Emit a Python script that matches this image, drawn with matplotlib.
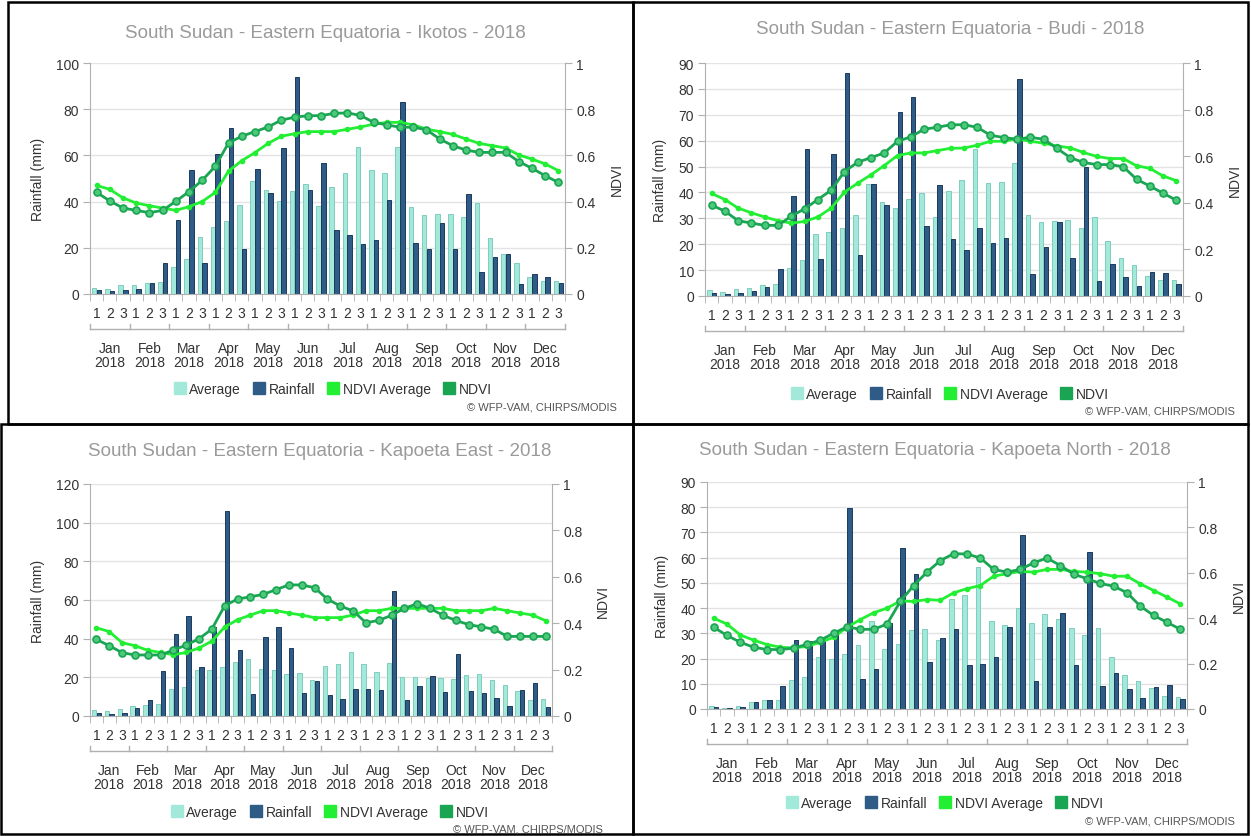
import numpy as np
import matplotlib
matplotlib.use('Agg')
import matplotlib.pyplot as plt
from matplotlib.lines import Line2D
from matplotlib.patches import Rectangle

plt.rcParams['font.family'] = ['Liberation Sans', 'DejaVu Sans']

W, H = 1251, 837

months = ['Jan', 'Feb', 'Mar', 'Apr', 'May', 'Jun', 'Jul', 'Aug', 'Sep', 'Oct', 'Nov', 'Dec']
year = '2018'
dekads = ['1', '2', '3'] * 12

titles = ['South Sudan - Eastern Equatoria - Ikotos - 2018',
          'South Sudan - Eastern Equatoria - Budi - 2018',
          'South Sudan - Eastern Equatoria - Kapoeta East - 2018',
          'South Sudan - Eastern Equatoria - Kapoeta North - 2018']

# Ikotos
avg_ikotos = [2.7, 2.2, 3.8, 4.0, 4.9, 5.2, 11.8, 15.0, 24.7, 28.9, 31.7, 38.4, 49.1, 44.9, 40.3, 44.4, 47.5, 38.0,
              46.2, 52.2, 63.8, 53.5, 52.5, 63.6, 37.8, 34.2, 34.5, 34.8, 33.2, 39.3, 24.4, 17.3, 13.4, 7.2, 5.6, 5.6]
rain_ikotos = [1.7, 1.3, 1.7, 2.3, 4.9, 13.4, 31.9, 53.7, 13.4, 60.6, 72.0, 19.5, 54.3, 43.6, 63.3, 93.8, 45.2, 56.7,
               27.6, 25.4, 21.5, 23.4, 40.5, 83.3, 22.2, 19.5, 30.6, 19.5, 43.4, 9.4, 15.9, 17.3, 4.2, 8.5, 7.2, 4.8]
ndvi_ikotos = [0.44, 0.403, 0.372, 0.362, 0.352, 0.362, 0.401, 0.443, 0.492, 0.553, 0.654, 0.683, 0.703, 0.723, 0.753,
               0.765, 0.772, 0.772, 0.782, 0.784, 0.773, 0.743, 0.732, 0.722, 0.722, 0.711, 0.671, 0.642, 0.623, 0.613,
               0.613, 0.613, 0.573, 0.544, 0.512, 0.483]
ndvi_avg_ikotos = [0.47, 0.453, 0.416, 0.394, 0.382, 0.372, 0.362, 0.378, 0.400, 0.440, 0.532, 0.577, 0.612, 0.652,
                   0.683, 0.694, 0.703, 0.703, 0.703, 0.713, 0.723, 0.735, 0.743, 0.743, 0.732, 0.714, 0.703, 0.691,
                   0.671, 0.652, 0.642, 0.632, 0.602, 0.584, 0.563, 0.534]

# Budi
avg_budi = [2.3, 1.5, 2.8, 3.2, 4.1, 4.6, 10.9, 13.9, 24.0, 24.8, 26.2, 31.1, 43.3, 36.4, 33.8, 37.5, 39.7, 30.7,
            40.5, 44.9, 56.8, 43.7, 44.0, 51.5, 31.1, 28.5, 28.8, 29.3, 26.2, 30.4, 21.1, 14.5, 11.8, 7.8, 6.0, 6.0]
rain_budi = [1.2, 0.9, 1.2, 2.1, 3.6, 10.5, 38.8, 56.7, 14.1, 54.9, 86.1, 15.9, 43.3, 35.2, 71.1, 76.7, 27.2, 42.9,
             22.1, 17.9, 26.3, 20.5, 22.5, 83.9, 8.4, 18.9, 28.5, 14.5, 49.9, 5.8, 12.3, 7.4, 4.0, 9.4, 8.8, 4.5]
ndvi_budi = [0.39, 0.364, 0.323, 0.313, 0.303, 0.303, 0.343, 0.374, 0.414, 0.454, 0.534, 0.574, 0.594, 0.614, 0.664,
             0.683, 0.716, 0.724, 0.735, 0.735, 0.724, 0.690, 0.680, 0.673, 0.681, 0.673, 0.634, 0.594, 0.573, 0.564,
             0.564, 0.555, 0.501, 0.472, 0.441, 0.411]
ndvi_avg_budi = [0.44, 0.414, 0.377, 0.357, 0.339, 0.323, 0.313, 0.320, 0.339, 0.377, 0.446, 0.484, 0.520, 0.560,
                 0.603, 0.614, 0.614, 0.624, 0.634, 0.635, 0.647, 0.664, 0.664, 0.675, 0.664, 0.656, 0.644, 0.636,
                 0.616, 0.599, 0.590, 0.590, 0.559, 0.548, 0.515, 0.495]

# Kapoeta East
avg_keast = [2.9, 2.4, 3.6, 5.0, 5.9, 6.0, 14.1, 15.2, 24.0, 24.0, 25.2, 28.1, 29.3, 24.5, 23.8, 21.7, 22.1, 18.6,
             25.7, 27.1, 33.1, 26.7, 22.6, 27.2, 20.2, 20.3, 19.7, 19.7, 19.1, 21.2, 21.9, 18.6, 16.2, 12.9, 8.1, 8.8]
rain_keast = [1.4, 1.2, 1.7, 4.3, 8.1, 23.3, 42.6, 51.7, 25.3, 46.0, 105.9, 34.3, 11.2, 41.0, 46.2, 35.3, 12.1, 17.9,
              11.0, 9.0, 13.8, 13.8, 13.6, 64.8, 8.4, 15.7, 20.5, 12.6, 31.9, 12.8, 11.9, 9.1, 5.2, 13.3, 16.9, 4.7]
ndvi_keast = [0.33, 0.303, 0.273, 0.263, 0.263, 0.263, 0.284, 0.306, 0.333, 0.375, 0.476, 0.504, 0.514, 0.524, 0.545,
              0.565, 0.565, 0.553, 0.504, 0.474, 0.453, 0.402, 0.412, 0.434, 0.464, 0.484, 0.464, 0.434, 0.412, 0.394,
              0.384, 0.374, 0.343, 0.343, 0.343, 0.343]
ndvi_avg_keast = [0.38, 0.364, 0.316, 0.303, 0.283, 0.274, 0.264, 0.274, 0.293, 0.323, 0.384, 0.415, 0.435, 0.454,
                  0.454, 0.444, 0.435, 0.424, 0.424, 0.424, 0.435, 0.454, 0.454, 0.464, 0.464, 0.464, 0.464, 0.464,
                  0.454, 0.454, 0.454, 0.464, 0.454, 0.444, 0.435, 0.411]

# Kapoeta North
avg_knorth = [1.2, 0.4, 1.3, 2.6, 3.7, 3.7, 11.4, 12.5, 20.7, 20.0, 22.0, 25.2, 34.7, 23.7, 25.6, 31.3, 31.8, 27.5,
              43.8, 45.3, 56.3, 35.0, 33.2, 40.0, 34.2, 37.5, 35.8, 32.2, 29.5, 32.3, 20.5, 13.6, 11.1, 8.3, 5.0, 4.9]
rain_knorth = [0.9, 0.5, 0.9, 2.6, 3.7, 9.3, 27.4, 26.8, 27.5, 31.5, 79.5, 11.9, 15.9, 34.2, 63.8, 53.4, 18.5, 28.1,
               31.8, 17.5, 17.9, 20.8, 32.6, 68.9, 11.0, 32.5, 38.1, 17.6, 62.4, 9.0, 14.3, 7.8, 4.2, 8.6, 9.7, 4.0]
ndvi_knorth = [0.36, 0.324, 0.294, 0.272, 0.262, 0.262, 0.268, 0.285, 0.303, 0.334, 0.362, 0.351, 0.351, 0.374, 0.474,
               0.544, 0.603, 0.654, 0.684, 0.683, 0.665, 0.615, 0.603, 0.615, 0.644, 0.665, 0.632, 0.594, 0.574, 0.553,
               0.541, 0.512, 0.453, 0.412, 0.382, 0.351]
ndvi_avg_knorth = [0.40, 0.374, 0.326, 0.303, 0.284, 0.272, 0.269, 0.276, 0.294, 0.316, 0.360, 0.394, 0.424, 0.444,
                   0.476, 0.474, 0.482, 0.479, 0.512, 0.530, 0.544, 0.585, 0.596, 0.606, 0.603, 0.615, 0.615, 0.606,
                   0.603, 0.596, 0.585, 0.585, 0.551, 0.522, 0.493, 0.463]

avgs = [avg_ikotos, avg_budi, avg_keast, avg_knorth]
rains = [rain_ikotos, rain_budi, rain_keast, rain_knorth]
ndvis = [ndvi_ikotos, ndvi_budi, ndvi_keast, ndvi_knorth]
ndvi_avgs = [ndvi_avg_ikotos, ndvi_avg_budi, ndvi_avg_keast, ndvi_avg_knorth]
rain_max = [100, 90, 120, 90]
rain_step = [20, 10, 20, 10]

# layout in pixels
boxes = [(90, 565, 64, 295), (705, 1183, 64, 297), (90, 552, 485, 717), (707, 1187, 483, 710)]  # plot l, r, t, b
frames = [(8, 633, 3, 425), (633, 1248, 3, 425), (1, 633, 425, 835), (633, 1248, 425, 835)]
title_xy = [(325, 33), (950, 30), (320, 452), (935, 451)]
legend_xy = [(333, 390), (950, 395), (330, 813), (945, 804)]
copy_xy = [(617, 408), (1235, 412), (603, 830), (1235, 822)]

c_avg, c_avg_edge = '#a3e9da', '#7fcdbf'
c_rain, c_rain_edge = '#2f5b87', '#1b3a5c'
c_nav = '#22ee33'
c_ndvi = '#1aa552'
txt = '#333333'
axc = '#b0b0b0'

fig = plt.figure(figsize=(W / 100, H / 100), dpi=100)


def draw(i):
    l, r, t, b = boxes[i]
    w, h = r - l, b - t
    ax = fig.add_axes([l / W, 1 - b / H, w / W, h / H])
    x = np.arange(36)
    ax.bar(x - 0.18, avgs[i], width=0.34, color=c_avg, edgecolor=c_avg_edge, lw=0.7, zorder=2)
    ax.bar(x + 0.18, rains[i], width=0.34, color=c_rain, edgecolor=c_rain_edge, lw=0.7, zorder=2)
    ax.set_xlim(-0.5, 35.5)
    ax.set_ylim(0, rain_max[i])
    ax.set_yticks(np.arange(0, rain_max[i] + 1, rain_step[i]))
    ax.grid(axis='y', color='#e3e3e3', lw=1)
    ax.set_axisbelow(True)
    for s in ['top', 'right']:
        ax.spines[s].set_visible(False)
    ax.spines['left'].set_color(axc)
    ax.spines['bottom'].set_color(axc)
    ax.tick_params(axis='y', colors=axc, labelcolor=txt, labelsize=10, length=5, pad=3)
    ax.set_xticks(x)
    ax.set_xticklabels(dekads)
    ax.set_xticks(np.arange(-0.5, 36, 1), minor=True)
    ax.tick_params(axis='x', which='major', length=0, pad=9, labelsize=10, labelcolor=txt)
    ax.tick_params(axis='x', which='minor', length=5, color=axc)
    ax.set_ylabel('Rainfall (mm)', fontsize=10, color=txt, labelpad=8)

    # month grouping below dekad labels
    tr = ax.get_xaxis_transform()
    ax.plot([-0.5, 35.5], [-35 / h, -35 / h], transform=tr, color=axc, lw=1, clip_on=False)
    for m in range(13):
        ax.plot([3 * m - 0.5] * 2, [-35 / h, -30 / h], transform=tr, color=axc, lw=1, clip_on=False)
    for m, name in enumerate(months):
        ax.text(3 * m + 1, -54 / h, name, transform=tr, ha='center', va='center', fontsize=10, color=txt)
        ax.text(3 * m + 1, -68 / h, year, transform=tr, ha='center', va='center', fontsize=10, color=txt)

    ax2 = ax.twinx()
    ax2.plot(x, ndvi_avgs[i], color=c_nav, lw=2, marker='o', ms=3, mfc=c_nav, mec=c_nav, zorder=3)
    ax2.plot(x, ndvis[i], color=c_ndvi, lw=2, marker='o', ms=5, mfc='#4cc97a', mec=c_ndvi, mew=1.2, zorder=4)
    ax2.set_ylim(0, 1)
    ax2.set_yticks([0, 0.2, 0.4, 0.6, 0.8, 1])
    ax2.set_yticklabels(['0', '0.2', '0.4', '0.6', '0.8', '1'])
    for s in ['top', 'left', 'bottom']:
        ax2.spines[s].set_visible(False)
    ax2.spines['right'].set_color(axc)
    ax2.tick_params(axis='y', colors=axc, labelcolor=txt, labelsize=10, length=5, pad=3)
    ax2.set_ylabel('NDVI', fontsize=10, color=txt, labelpad=10)

    tx, ty = title_xy[i]
    fig.text(tx / W, 1 - ty / H, titles[i], ha='center', va='center', fontsize=13.5, color='#9a9a9a')

    handles = [Line2D([], [], marker='s', ls='', ms=8, color=c) for c in (c_avg, c_rain, c_nav, c_ndvi)]
    lx, ly = legend_xy[i]
    fig.legend(handles, ['Average', 'Rainfall', 'NDVI Average', 'NDVI'], loc='center',
               bbox_to_anchor=(lx / W, 1 - ly / H), ncol=4, frameon=False, fontsize=10,
               handlelength=0.8, handletextpad=0.3, columnspacing=0.9, labelcolor=txt)
    cx, cy = copy_xy[i]
    fig.text(cx / W, 1 - cy / H, '\u00a9 WFP-VAM, CHIRPS/MODIS', ha='right', va='center', fontsize=8, color='#555555')

    fx0, fx1, fy0, fy1 = frames[i]
    fig.add_artist(Rectangle((fx0 / W, 1 - fy1 / H), (fx1 - fx0) / W, (fy1 - fy0) / H,
                             transform=fig.transFigure, fill=False, ec='black', lw=1.8))


for i in range(4):
    draw(i)

fig.savefig('out.png', dpi=100)
